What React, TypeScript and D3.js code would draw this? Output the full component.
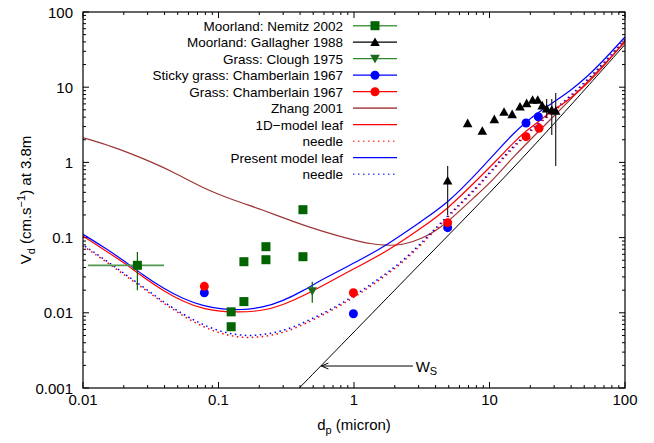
import React from 'react';
import * as d3 from 'd3';

const W = 654, H = 443;
const PL = 83, PR = 625, PT = 12, PB = 388;
const FONT = 'Liberation Sans, Arial, Helvetica, sans-serif';

const xTicks = [0.01, 0.1, 1, 10, 100];
const xTickLabels = ['0.01', '0.1', '1', '10', '100'];
const yTicks = [0.001, 0.01, 0.1, 1, 10, 100];
const yTickLabels = ['0.001', '0.01', '0.1', '1', '10', '100'];

// Observations
const nemitz: [number, number][] = [
  [0.0252, 0.0428], [0.124, 0.0103], [0.124, 0.00653], [0.154, 0.0478], [0.154, 0.0141],
  [0.224, 0.0757], [0.224, 0.0508], [0.42, 0.235], [0.42, 0.0557],
];
const nemitzErr = { x: 0.0252, y: 0.0428, xlo: 0.0109, xhi: 0.0396, ylo: 0.0199, yhi: 0.0644 };
const gallagher: [number, number][] = [
  [4.91, 0.571], [6.9, 3.31], [8.85, 2.62], [10.85, 3.74], [12.8, 4.68], [14.7, 4.36], [16.8, 5.5],
  [18.8, 6.1], [20.8, 6.76], [22.7, 6.76], [24.5, 5.68], [26.4, 5.18], [28.8, 4.98], [30.8, 4.83],
];
const gallagherErr: [number, number, number][] = [
  [4.91, 0.2, 0.896], [26.4, 3.89, 6.97], [28.8, 2.31, 6.97], [30.8, 0.896, 8.37],
];
const clough: [number, number][] = [[0.492, 0.0195]];
const cloughErr: [number, number, number][] = [[0.492, 0.0136, 0.0259]];
const stickyGrass: [number, number][] = [[0.0786, 0.0185], [0.99, 0.00973], [4.91, 0.1355], [18.6, 3.34], [22.9, 4.05]];
const grass: [number, number][] = [[0.0786, 0.0225], [0.99, 0.0185], [4.91, 0.158], [18.6, 2.2], [23.2, 2.84]];

// Model curves
const zhang2001: [number, number][] = [
  [0.01, 2.13], [0.01665, 1.62], [0.02773, 1.13], [0.0462, 0.752], [0.0769, 0.453], [0.128, 0.316],
  [0.213, 0.233], [0.355, 0.163], [0.59, 0.12], [0.984, 0.093], [1.381, 0.0815], [1.752, 0.0785],
  [2.3, 0.0797], [3.23, 0.098], [4.31, 0.133], [5.76, 0.21], [7.55, 0.333], [10.09, 0.527],
  [14.91, 1.18], [23.6, 2.7], [39.27, 6.76], [65.4, 17.5], [100, 39.9],
];
const leaf1D: [number, number][] = [
  [0.01, 0.105], [0.01405, 0.0705], [0.01973, 0.0474], [0.02773, 0.0299], [0.03895, 0.01967],
  [0.0547, 0.01414], [0.0769, 0.01113], [0.128, 0.01003], [0.213, 0.01057], [0.299, 0.0127],
  [0.42, 0.01673], [0.59, 0.02307], [1.052, 0.0406], [1.752, 0.0653], [3.23, 0.1384], [4.91, 0.24],
  [8.51, 0.639], [11.36, 1.076], [14.91, 1.811], [18.6, 2.616], [23.19, 3.552], [30.43, 5.13],
  [39.27, 6.97], [53.33, 11.37], [68.8, 18.56], [100, 41.2],
];
const needle1D: [number, number][] = [
  [0.01, 0.0773], [0.01405, 0.0512], [0.01973, 0.0328], [0.02773, 0.02137], [0.03895, 0.0135],
  [0.0547, 0.00907], [0.0769, 0.00648], [0.108, 0.00515], [0.1517, 0.00462], [0.213, 0.00477],
  [0.299, 0.00539], [0.42, 0.00688], [0.788, 0.01213], [1.381, 0.02343], [2.46, 0.0504],
  [4.31, 0.1471], [5.76, 0.2475], [8.09, 0.4566], [10.09, 0.712], [14.91, 1.578], [23.19, 3.29],
  [39.27, 7.07], [68.8, 19.44], [100, 42.4],
];
const presentLeaf: [number, number][] = [
  [0.01, 0.1106], [0.01405, 0.0757], [0.01973, 0.0504], [0.02773, 0.0318], [0.03895, 0.0212],
  [0.0547, 0.0153], [0.0769, 0.0123], [0.108, 0.0111], [0.144, 0.0109], [0.213, 0.0117],
  [0.299, 0.0144], [0.42, 0.0195], [0.59, 0.0282], [1.052, 0.0478], [1.752, 0.0797], [3.23, 0.171],
  [4.91, 0.286], [8.51, 0.79], [11.36, 1.42], [14.91, 2.39], [18.6, 3.45], [23.19, 4.68],
  [30.43, 6.55], [39.27, 8.9], [53.33, 14.1], [68.8, 22.3], [100, 46.5],
];
const presentNeedle: [number, number][] = [
  [0.01, 0.0797], [0.01405, 0.053], [0.01973, 0.0341], [0.02773, 0.0222], [0.03895, 0.01405],
  [0.0547, 0.00955], [0.0769, 0.00688], [0.108, 0.0055], [0.1517, 0.00491], [0.213, 0.00507],
  [0.299, 0.00573], [0.42, 0.00725], [0.788, 0.0127], [1.381, 0.0247], [2.46, 0.053], [4.31, 0.155],
  [5.76, 0.2576], [8.09, 0.475], [10.09, 0.745], [14.91, 1.653], [23.19, 3.445], [39.27, 7.41],
  [68.8, 20.35], [100, 43.7],
];
const settlingWs: [number, number][] = [
  [0.3947, 0.001], [1.0, 0.00556], [3.23, 0.0489], [10.09, 0.392], [31.0, 3.45], [100, 37],
];
const wsArrow = { y: 0.00196, xFrom: 2.72, xTo: 0.575, labelX: 2.85 };

const legendLabels = [
  'Moorland: Nemitz 2002', 'Moorland: Gallagher 1988', 'Grass: Clough 1975',
  'Sticky grass: Chamberlain 1967', 'Grass: Chamberlain 1967', 'Zhang 2001',
  '1D\u2212model leaf', 'needle', 'Present model leaf', 'needle',
];

const GREEN = '#006400';
const BROWN = '#9e3535';

export default function App() {
  const x = d3.scaleLog().domain([0.01, 100]).range([PL, PR]);
  const y = d3.scaleLog().domain([0.001, 100]).range([PB, PT]);
  const line = d3.line<[number, number]>()
    .x(d => x(d[0])).y(d => y(d[1]))
    .curve(d3.curveBasis);

  const minorX: number[] = [];
  for (let e = -2; e < 2; e++) for (let m = 2; m <= 9; m++) minorX.push(m * Math.pow(10, e));
  const minorY: number[] = [];
  for (let e = -3; e < 2; e++) for (let m = 2; m <= 9; m++) minorY.push(m * Math.pow(10, e));

  const tri = (cx: number, cy: number, up: boolean, s = 4.8) => up
    ? `M${cx},${cy - s} L${cx + s},${cy + s * 0.8} L${cx - s},${cy + s * 0.8} Z`
    : `M${cx},${cy + s} L${cx + s},${cy - s * 0.8} L${cx - s},${cy - s * 0.8} Z`;

  const LX_TEXT = 343, LX0 = 353, LX1 = 397, LXM = 375, LY0 = 25.7, LDY = 16.5;
  const ly = (i: number) => LY0 + i * LDY;

  return (
    <svg width={W} height={H} style={{ position: 'absolute', left: 0, top: 0, background: '#fff' }}
      fontFamily={FONT}>
      <defs>
        <clipPath id="plotclip"><rect x={PL} y={PT} width={PR - PL} height={PB - PT} /></clipPath>
      </defs>
      <rect x={0} y={0} width={W} height={H} fill="#fff" />

      {/* ticks */}
      {xTicks.map((t, i) => (
        <g key={'xt' + i}>
          <line x1={x(t)} x2={x(t)} y1={PB} y2={PB - 6} stroke="#000" />
          <line x1={x(t)} x2={x(t)} y1={PT} y2={PT + 6} stroke="#000" />
          <text x={x(t)} y={405} fontSize={15} textAnchor="middle">{xTickLabels[i]}</text>
        </g>
      ))}
      {minorX.map((t, i) => (
        <g key={'xm' + i}>
          <line x1={x(t)} x2={x(t)} y1={PB} y2={PB - 3} stroke="#000" />
          <line x1={x(t)} x2={x(t)} y1={PT} y2={PT + 3} stroke="#000" />
        </g>
      ))}
      {yTicks.map((t, i) => (
        <g key={'yt' + i}>
          <line x1={PL} x2={PL + 6} y1={y(t)} y2={y(t)} stroke="#000" />
          <line x1={PR} x2={PR - 6} y1={y(t)} y2={y(t)} stroke="#000" />
          <text x={73} y={y(t) + 5.5} fontSize={15} textAnchor="end">{yTickLabels[i]}</text>
        </g>
      ))}
      {minorY.map((t, i) => (
        <g key={'ym' + i}>
          <line x1={PL} x2={PL + 3} y1={y(t)} y2={y(t)} stroke="#000" />
          <line x1={PR} x2={PR - 3} y1={y(t)} y2={y(t)} stroke="#000" />
        </g>
      ))}

      {/* curves */}
      <g clipPath="url(#plotclip)" fill="none">
        <path d={line(settlingWs) || ''} stroke="#000" strokeWidth={1} />
        <path d={line(zhang2001) || ''} stroke={BROWN} strokeWidth={1.2} />
        <path d={line(needle1D) || ''} stroke="#ff0000" strokeWidth={1.5} strokeDasharray="1.5,3.5" />
        <path d={line(presentNeedle) || ''} stroke="#0000ff" strokeWidth={1.5} strokeDasharray="1.5,3.5" strokeDashoffset={2.5} />
        <path d={line(leaf1D) || ''} stroke="#ff0000" strokeWidth={1.2} />
        <path d={line(presentLeaf) || ''} stroke="#0000ff" strokeWidth={1.2} />
      </g>

      {/* W_s annotation */}
      <line x1={x(wsArrow.xFrom)} x2={x(wsArrow.xTo)} y1={y(wsArrow.y)} y2={y(wsArrow.y)} stroke="#000" />
      <path d={`M${x(wsArrow.xTo) + 7},${y(wsArrow.y) - 3} L${x(wsArrow.xTo)},${y(wsArrow.y)} L${x(wsArrow.xTo) + 7},${y(wsArrow.y) + 3}`}
        fill="none" stroke="#000" />
      <text x={x(wsArrow.labelX)} y={y(wsArrow.y) + 5.5} fontSize={15}>W<tspan fontSize={11} dy={3}>S</tspan></text>

      {/* error bars */}
      <line x1={x(nemitzErr.xlo)} x2={x(nemitzErr.xhi)} y1={y(nemitzErr.y)} y2={y(nemitzErr.y)} stroke="#4f9a4f" strokeWidth={1.8} />
      <line x1={x(nemitzErr.x)} x2={x(nemitzErr.x)} y1={y(nemitzErr.ylo)} y2={y(nemitzErr.yhi)} stroke={GREEN} strokeWidth={1.2} />
      {gallagherErr.map((d, i) => (
        <line key={'ge' + i} x1={x(d[0])} x2={x(d[0])} y1={y(d[1])} y2={y(d[2])} stroke="#222" strokeWidth={1.2} />
      ))}
      {cloughErr.map((d, i) => (
        <line key={'ce' + i} x1={x(d[0])} x2={x(d[0])} y1={y(d[1])} y2={y(d[2])} stroke={GREEN} strokeWidth={1.2} />
      ))}

      {/* points */}
      {nemitz.map((d, i) => (
        <rect key={'n' + i} x={x(d[0]) - 4.5} y={y(d[1]) - 4.5} width={9} height={9} fill={GREEN} />
      ))}
      {gallagher.map((d, i) => (
        <path key={'g' + i} d={tri(x(d[0]), y(d[1]), true)} fill="#000" />
      ))}
      {clough.map((d, i) => (
        <path key={'c' + i} d={tri(x(d[0]), y(d[1]), false)} fill="#1d6b1d" />
      ))}
      {stickyGrass.map((d, i) => (
        <circle key={'s' + i} cx={x(d[0])} cy={y(d[1])} r={4.5} fill="#0000ff" />
      ))}
      {grass.map((d, i) => (
        <circle key={'r' + i} cx={x(d[0])} cy={y(d[1])} r={4.5} fill="#ff0000" />
      ))}

      {/* frame */}
      <rect x={PL} y={PT} width={PR - PL} height={PB - PT} fill="none" stroke="#000" strokeWidth={1.2} />

      {/* legend */}
      {legendLabels.map((t, i) => (
        <text key={'lt' + i} x={LX_TEXT} y={ly(i) + 5} fontSize={13.5} textAnchor="end">{t}</text>
      ))}
      <line x1={LX0} x2={LX1} y1={ly(0)} y2={ly(0)} stroke="#4f9a4f" strokeWidth={1.5} />
      <rect x={LXM - 4.5} y={ly(0) - 4.5} width={9} height={9} fill={GREEN} />
      <line x1={LX0} x2={LX1} y1={ly(1)} y2={ly(1)} stroke="#000" strokeWidth={1.2} />
      <path d={tri(LXM, ly(1), true)} fill="#000" />
      <line x1={LX0} x2={LX1} y1={ly(2)} y2={ly(2)} stroke="#2a8a2a" strokeWidth={1.2} />
      <path d={tri(LXM, ly(2), false)} fill="#1d6b1d" />
      <line x1={LX0} x2={LX1} y1={ly(3)} y2={ly(3)} stroke="#0000ff" strokeWidth={1.2} />
      <circle cx={LXM} cy={ly(3)} r={4.5} fill="#0000ff" />
      <line x1={LX0} x2={LX1} y1={ly(4)} y2={ly(4)} stroke="#ff0000" strokeWidth={1.2} />
      <circle cx={LXM} cy={ly(4)} r={4.5} fill="#ff0000" />
      <line x1={LX0} x2={LX1} y1={ly(5)} y2={ly(5)} stroke={BROWN} strokeWidth={1.8} strokeOpacity={0.8} />
      <line x1={LX0} x2={LX1} y1={ly(6)} y2={ly(6)} stroke="#ff0000" strokeWidth={1.2} />
      <line x1={LX0} x2={LX1} y1={ly(7)} y2={ly(7)} stroke="#ff0000" strokeWidth={1.5} strokeDasharray="1.5,3.5" strokeOpacity={0.7} />
      <line x1={LX0} x2={LX1} y1={ly(8)} y2={ly(8)} stroke="#0000ff" strokeWidth={1.2} />
      <line x1={LX0} x2={LX1} y1={ly(9)} y2={ly(9)} stroke="#0000ff" strokeWidth={1.5} strokeDasharray="1.5,3.5" strokeOpacity={0.7} />

      {/* axis labels */}
      <text x={(PL + PR) / 2} y={430} fontSize={15} textAnchor="middle">
        d<tspan fontSize={11} dy={4}>p</tspan><tspan dy={-4}> (micron)</tspan>
      </text>
      <text transform={`translate(31,${(PT + PB) / 2}) rotate(-90)`} fontSize={15} textAnchor="middle">
        V<tspan fontSize={11} dy={4}>d</tspan><tspan dy={-4}> (cm.s</tspan><tspan fontSize={11} dy={-6}>−1</tspan><tspan dy={6}>) at 3.8m</tspan>
      </text>
    </svg>
  );
}
